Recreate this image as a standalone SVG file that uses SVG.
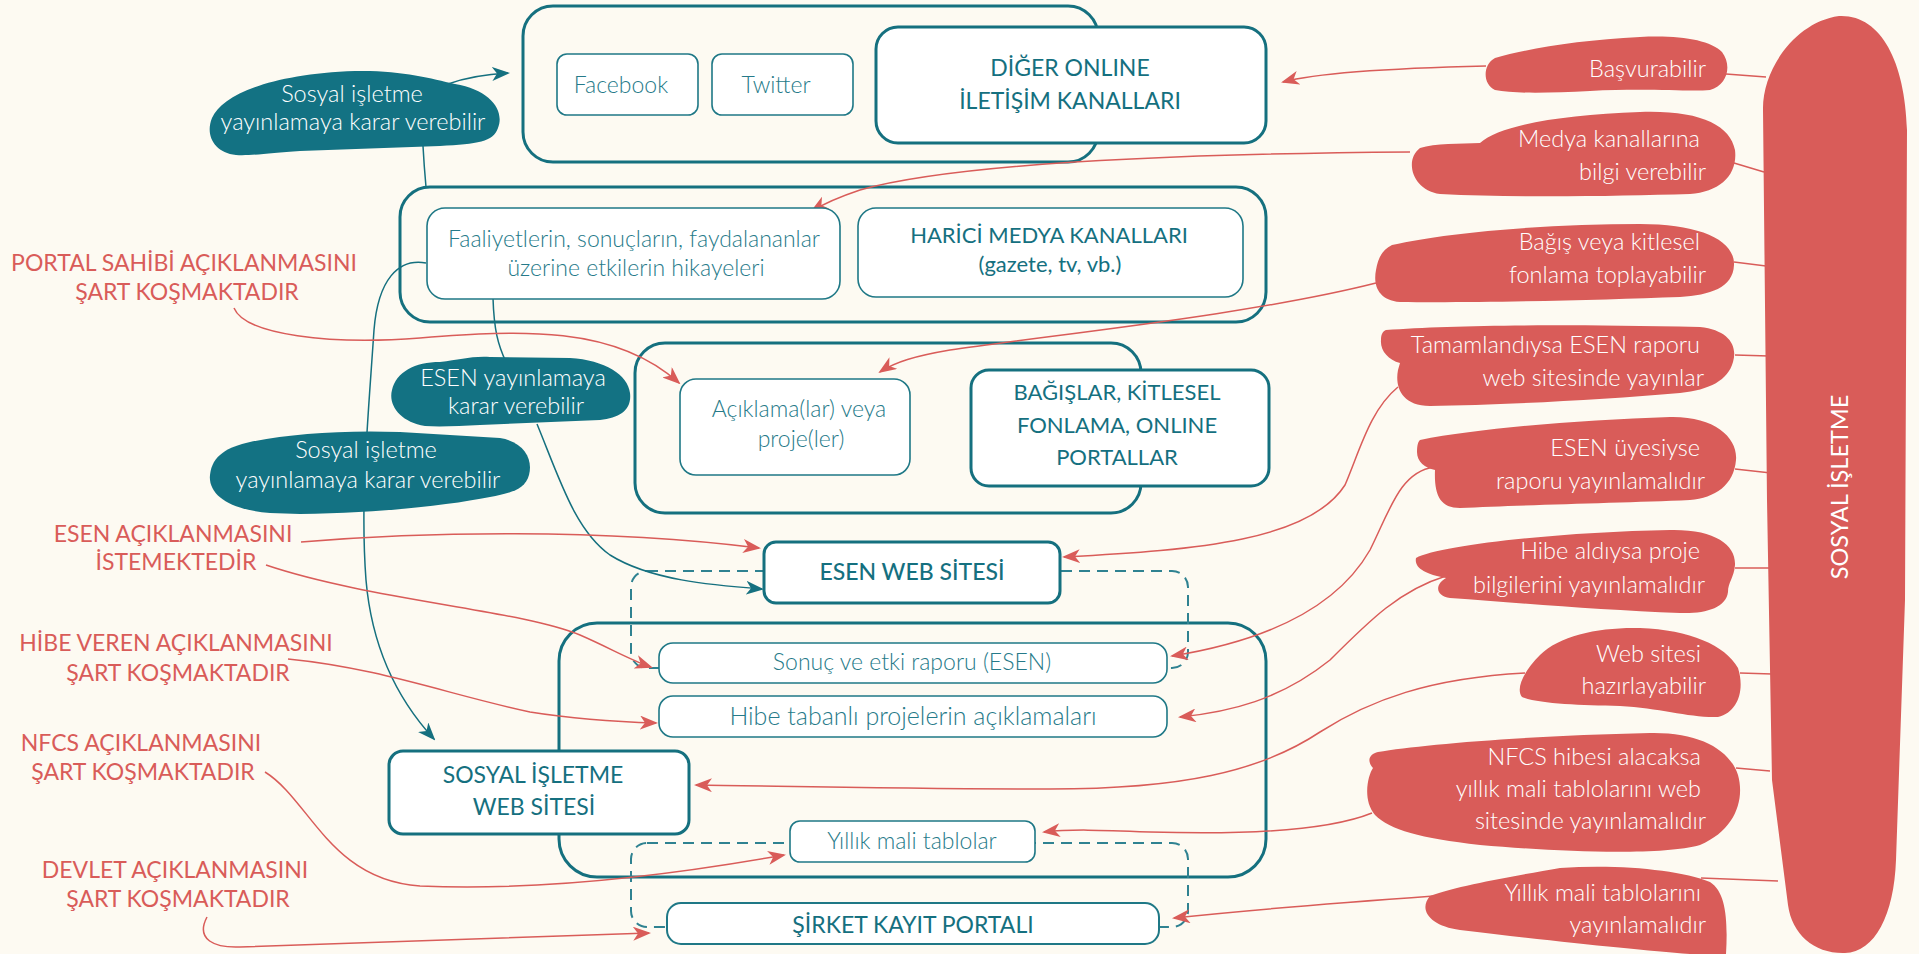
<svg xmlns="http://www.w3.org/2000/svg" width="1919" height="954" viewBox="0 0 1919 954">
<style>
.cont{fill:none;stroke:#15707f;stroke-width:3}
.thick{fill:#fff;stroke:#15707f;stroke-width:3}
.thin{fill:#fff;stroke:#1f7886;stroke-width:1.6}
.dash{fill:none;stroke:#2f8291;stroke-width:2;stroke-dasharray:11 7}
.tc{fill:none;stroke:#15707f;stroke-width:1.5}
.rc{fill:none;stroke:#d95c59;stroke-width:1.5}
.tblob{fill:#137283}
.rblob{fill:#d95c59}
text{font-family:Lato,"Open Sans","Liberation Sans",sans-serif}
.t{fill:#267a89;font-size:23px;font-weight:300;text-anchor:middle}
.b{fill:#15707f;font-size:23px;font-weight:400;text-anchor:middle}
.w{fill:#fff;font-size:23.5px;font-weight:300;text-anchor:middle}
.we{fill:#fff;font-size:23.5px;font-weight:300;text-anchor:end}
.rl{fill:#d95c59;font-size:23px;font-weight:400;text-anchor:middle}
</style>
<defs>
<marker id="ra" viewBox="0 0 18 14" refX="16" refY="7" markerWidth="18" markerHeight="14" markerUnits="userSpaceOnUse" orient="auto"><path d="M0,0 L18,7 L0,14 L5,7 Z" fill="#d95c59"/></marker>
<marker id="ta" viewBox="0 0 18 14" refX="16" refY="7" markerWidth="18" markerHeight="14" markerUnits="userSpaceOnUse" orient="auto"><path d="M0,0 L18,7 L0,14 L5,7 Z" fill="#15707f"/></marker>
</defs>
<rect width="1919" height="954" fill="#fdfaf2"/>

<g id="containers">
<rect class="cont" x="523" y="6" width="575" height="156" rx="30"/>
<rect class="cont" x="400" y="187" width="866" height="135" rx="30"/>
<rect class="cont" x="635" y="343" width="506" height="170" rx="30"/>
<rect class="cont" x="559" y="623" width="707" height="254" rx="38"/>
<rect class="dash" x="631" y="571" width="557" height="97" rx="16"/>
<rect class="dash" x="631" y="843" width="557" height="84" rx="16"/>
</g>

<g id="connectors">
<path class="tc" d="M448,84 C470,76 490,74 508,73" marker-end="url(#ta)"/>
<path class="tc" d="M423,146 C424,165 425,176 426,187"/>
<path class="tc" d="M426,263 C398,258 378,280 374,330 C368,420 360,500 366,580 C372,650 398,700 434,739" marker-end="url(#ta)"/>
<path class="tc" d="M493,298 C494,330 498,345 506,362"/>
<path class="tc" d="M537,424 C560,480 575,530 610,555 C650,580 710,585 762,589" marker-end="url(#ta)"/>

<path class="rc" d="M234,308 C245,335 330,345 420,338 C520,330 615,325 679,383" marker-end="url(#ra)"/>
<path class="rc" d="M301,542 C420,532 600,528 759,548" marker-end="url(#ra)"/>
<path class="rc" d="M266,565 C370,600 520,610 580,635 C610,648 630,660 651,667" marker-end="url(#ra)"/>
<path class="rc" d="M288,659 C380,668 450,695 530,712 C580,720 620,722 656,723" marker-end="url(#ra)"/>
<path class="rc" d="M265,772 C310,800 330,880 420,886 C560,892 700,870 784,855" marker-end="url(#ra)"/>
<path class="rc" d="M207,917 C195,940 215,948 240,947 C400,942 550,937 649,933" marker-end="url(#ra)"/>

<path class="rc" d="M1486,66 C1400,68 1320,72 1283,82" marker-end="url(#ra)"/>
<path class="rc" d="M1410,152 C1150,154 950,165 860,190 Q830,200 812,211" marker-end="url(#ra)"/>
<path class="rc" d="M1376,283 C1250,315 1050,335 950,350 C915,356 895,362 880,372" marker-end="url(#ra)"/>
<path class="rc" d="M1398,387 C1370,410 1360,450 1345,485 C1310,540 1200,550 1064,557" marker-end="url(#ra)"/>
<path class="rc" d="M1434,467 C1400,472 1390,510 1370,550 C1330,620 1240,645 1172,656" marker-end="url(#ra)"/>
<path class="rc" d="M1446,576 C1400,590 1370,620 1330,660 C1280,700 1230,712 1180,717" marker-end="url(#ra)"/>
<path class="rc" d="M1525,673 C1430,678 1370,700 1320,732 C1260,772 1180,789 1050,789 C900,789 780,786 696,785" marker-end="url(#ra)"/>
<path class="rc" d="M1372,813 C1330,830 1250,835 1150,832 C1100,830 1070,829 1044,832" marker-end="url(#ra)"/>
<path class="rc" d="M1434,896 C1350,902 1250,910 1174,918" marker-end="url(#ra)"/>

<path class="rc" d="M1726,74 L1766,77"/>
<path class="rc" d="M1734,163 L1764,172"/>
<path class="rc" d="M1734,262 L1766,266"/>
<path class="rc" d="M1735,355 L1769,356"/>
<path class="rc" d="M1735,469 L1771,473"/>
<path class="rc" d="M1735,568 L1773,568"/>
<path class="rc" d="M1740,673 L1772,674"/>
<path class="rc" d="M1736,768 L1770,771"/>
<path class="rc" d="M1701,878 L1778,881"/>
</g>

<g id="n-facebook"><rect class="thin" x="557" y="54" width="141" height="61" rx="10"/><text class="t" x="621" y="93">Facebook</text></g>
<g id="n-twitter"><rect class="thin" x="712" y="54" width="141" height="61" rx="10"/><text class="t" x="776" y="93">Twitter</text></g>
<g id="n-diger"><rect class="thick" x="876" y="27" width="390" height="116" rx="22"/><text class="b" x="1070" y="76">DİĞER ONLINE</text><text class="b" x="1070" y="109">İLETİŞİM KANALLARI</text></g>

<g id="n-faaliyet"><rect class="thin" x="427" y="208" width="413" height="91" rx="18"/><text class="t" x="634" y="247">Faaliyetlerin, sonuçların, faydalananlar</text><text class="t" x="636" y="276">üzerine etkilerin hikayeleri</text></g>
<g id="n-harici"><rect class="thin" x="858" y="208" width="385" height="89" rx="18"/><text class="b" x="1049" y="243" style="font-size:22px">HARİCİ MEDYA KANALLARI</text><text class="b" x="1050" y="272" style="font-size:22px">(gazete, tv, vb.)</text></g>

<g id="n-aciklama"><rect class="thin" x="680" y="379" width="230" height="96" rx="16"/><text class="t" x="799" y="417">Açıklama(lar) veya</text><text class="t" x="801" y="447">proje(ler)</text></g>
<g id="n-bagis"><rect class="thick" x="971" y="370" width="298" height="116" rx="18"/><text class="b" x="1117" y="400" style="font-size:22px">BAĞIŞLAR, KİTLESEL</text><text class="b" x="1117" y="433" style="font-size:22px">FONLAMA, ONLINE</text><text class="b" x="1117" y="465" style="font-size:22px">PORTALLAR</text></g>

<g id="n-esenweb"><rect class="thick" x="764" y="542" width="296" height="61" rx="12"/><text class="b" x="912" y="580" style="font-weight:500">ESEN WEB SİTESİ</text></g>
<g id="n-sonuc"><rect class="thin" x="659" y="643" width="508" height="40" rx="14"/><text class="t" x="912" y="670">Sonuç ve etki raporu (ESEN)</text></g>
<g id="n-hibe"><rect class="thin" x="659" y="696" width="508" height="41" rx="14"/><text class="t" x="913" y="725" style="font-size:25px">Hibe tabanlı projelerin açıklamaları</text></g>
<g id="n-yillik"><rect class="thin" x="790" y="821" width="245" height="41" rx="10"/><text class="t" x="912" y="849">Yıllık mali tablolar</text></g>
<g id="n-sosyalweb"><rect class="thick" x="389" y="751" width="300" height="83" rx="14"/><text class="b" x="533" y="783">SOSYAL İŞLETME</text><text class="b" x="534" y="815">WEB SİTESİ</text></g>
<g id="n-sirket"><rect class="thin" x="667" y="903" width="492" height="41" rx="14" style="stroke-width:2"/><text class="b" x="913" y="933">ŞİRKET KAYIT PORTALI</text></g>

<g id="n-blobA"><path class="tblob" d="M236,155 C214,153 205,135 212,118 C222,95 270,74 355,71 C400,70 430,78 455,84 C490,90 505,110 498,128 C493,142 478,144 440,146 L300,151 C270,153 250,156 236,155 Z"/><text class="w" x="352" y="102">Sosyal işletme</text><text class="w" x="353" y="130">yayınlamaya karar verebilir</text></g>
<g id="n-blobB"><path class="tblob" d="M425,426 C400,422 388,405 392,390 C396,372 415,362 440,362 C460,360 470,356 490,357 L570,358 C605,360 628,375 630,393 C632,410 620,418 600,420 L480,425 C460,426 440,427 425,426 Z"/><text class="w" x="513" y="386">ESEN yayınlamaya</text><text class="w" x="516" y="414">karar verebilir</text></g>
<g id="n-blobC"><path class="tblob" d="M270,513 C230,510 208,495 210,475 C212,455 228,447 250,442 C290,434 340,430 400,432 L500,438 C525,442 533,460 529,475 C525,490 510,493 490,497 C450,505 380,513 300,514 Z"/><text class="w" x="366" y="458">Sosyal işletme</text><text class="w" x="368" y="488">yayınlamaya karar verebilir</text></g>

<g id="n-portal"><text class="rl" x="184" y="271">PORTAL SAHİBİ AÇIKLANMASINI</text><text class="rl" x="187" y="300">ŞART KOŞMAKTADIR</text></g>
<g id="n-esenlabel"><text class="rl" x="173" y="542">ESEN AÇIKLANMASINI</text><text class="rl" x="176" y="570">İSTEMEKTEDİR</text></g>
<g id="n-hibeveren"><text class="rl" x="176" y="651">HİBE VEREN AÇIKLANMASINI</text><text class="rl" x="178" y="681">ŞART KOŞMAKTADIR</text></g>
<g id="n-nfcs"><text class="rl" x="141" y="751">NFCS AÇIKLANMASINI</text><text class="rl" x="143" y="780">ŞART KOŞMAKTADIR</text></g>
<g id="n-devlet"><text class="rl" x="175" y="878">DEVLET AÇIKLANMASINI</text><text class="rl" x="178" y="907">ŞART KOŞMAKTADIR</text></g>

<g id="n-sosyal"><path class="rblob" d="M1763,110 C1762,70 1795,22 1839,16 C1880,14 1905,60 1907,130 L1905,600 L1896,860 C1894,915 1875,952 1845,953 C1815,954 1792,935 1788,905 L1772,780 L1767,500 Z"/><text transform="translate(1848,487) rotate(-90)" style="fill:#fff;font-size:23.5px;font-weight:400;text-anchor:middle">SOSYAL İŞLETME</text></g>

<g id="n-basvur"><path class="rblob" d="M1495,90 C1483,85 1482,65 1495,58 C1530,48 1580,40 1640,37 C1680,35 1710,40 1722,52 C1732,65 1728,85 1710,90 C1690,92 1650,88 1590,91 C1550,93 1515,94 1495,90 Z"/><text class="we" x="1706" y="77">Başvurabilir</text></g>
<g id="n-medya"><path class="rblob" d="M1480,143 C1500,125 1560,115 1640,112 C1700,110 1730,125 1735,150 C1738,175 1720,192 1690,194 C1620,196 1520,198 1440,194 C1412,190 1404,160 1420,148 C1435,143 1460,144 1480,143 Z"/><text class="we" x="1700" y="147">Medya kanallarına</text><text class="we" x="1706" y="180">bilgi verebilir</text></g>
<g id="n-bagislabel"><path class="rblob" d="M1392,245 C1450,232 1550,224 1640,224 C1700,224 1735,240 1734,265 C1733,288 1710,295 1680,297 C1600,300 1480,303 1400,302 C1378,300 1373,285 1376,270 C1378,258 1382,250 1392,245 Z"/><text class="we" x="1700" y="250">Bağış veya kitlesel</text><text class="we" x="1706" y="283">fonlama toplayabilir</text></g>
<g id="n-tamam"><path class="rblob" d="M1386,330 C1450,325 1550,324 1700,327 C1728,330 1738,345 1733,362 C1728,380 1710,390 1680,393 C1600,400 1500,405 1430,406 C1400,406 1395,385 1398,370 L1400,363 C1388,360 1380,350 1381,340 C1381,334 1383,331 1386,330 Z"/><text class="we" x="1700" y="353">Tamamlandıysa ESEN raporu</text><text class="we" x="1704" y="386">web sitesinde yayınlar</text></g>
<g id="n-uyesi"><path class="rblob" d="M1420,440 C1480,428 1580,420 1670,417 C1715,416 1738,438 1736,460 C1734,485 1715,498 1690,500 C1620,503 1520,505 1460,508 C1440,508 1434,495 1435,470 C1425,468 1417,462 1417,452 C1417,445 1418,442 1420,440 Z"/><text class="we" x="1700" y="456">ESEN üyesiyse</text><text class="we" x="1705" y="489">raporu yayınlamalıdır</text></g>
<g id="n-hibealdi"><path class="rblob" d="M1416,558 C1440,545 1560,532 1670,530 C1715,529 1736,545 1735,565 C1734,578 1728,582 1728,592 C1726,608 1705,614 1680,613 C1600,610 1520,603 1450,598 C1436,596 1434,585 1446,578 C1425,574 1414,568 1416,558 Z"/><text class="we" x="1700" y="559">Hibe aldıysa proje</text><text class="we" x="1705" y="593">bilgilerini yayınlamalıdır</text></g>
<g id="n-websitesi"><path class="rblob" d="M1522,697 C1515,688 1525,670 1540,655 C1560,635 1600,627 1640,628 C1690,630 1725,645 1738,668 C1745,690 1738,712 1718,717 C1690,718 1660,708 1620,706 C1580,705 1540,704 1522,697 Z"/><text class="we" x="1701" y="662">Web sitesi</text><text class="we" x="1706" y="694">hazırlayabilir</text></g>
<g id="n-nfcshibe"><path class="rblob" d="M1378,752 C1420,745 1520,736 1650,733 C1700,732 1730,750 1738,775 C1745,800 1735,830 1700,845 C1660,856 1560,852 1480,845 C1420,838 1390,830 1375,815 C1362,800 1368,775 1373,768 C1366,760 1370,754 1378,752 Z"/><text class="we" x="1701" y="765">NFCS hibesi alacaksa</text><text class="we" x="1701" y="797">yıllık mali tablolarını web</text><text class="we" x="1706" y="829">sitesinde yayınlamalıdır</text></g>
<g id="n-yillikpub"><path class="rblob" d="M1430,896 C1460,885 1520,875 1560,868 C1620,864 1680,870 1710,882 C1726,892 1728,920 1726,954 L1690,954 C1640,950 1560,942 1460,930 C1430,926 1418,910 1430,896 Z"/><text class="we" x="1701" y="901">Yıllık mali tablolarını</text><text class="we" x="1706" y="933">yayınlamalıdır</text></g>
</svg>
